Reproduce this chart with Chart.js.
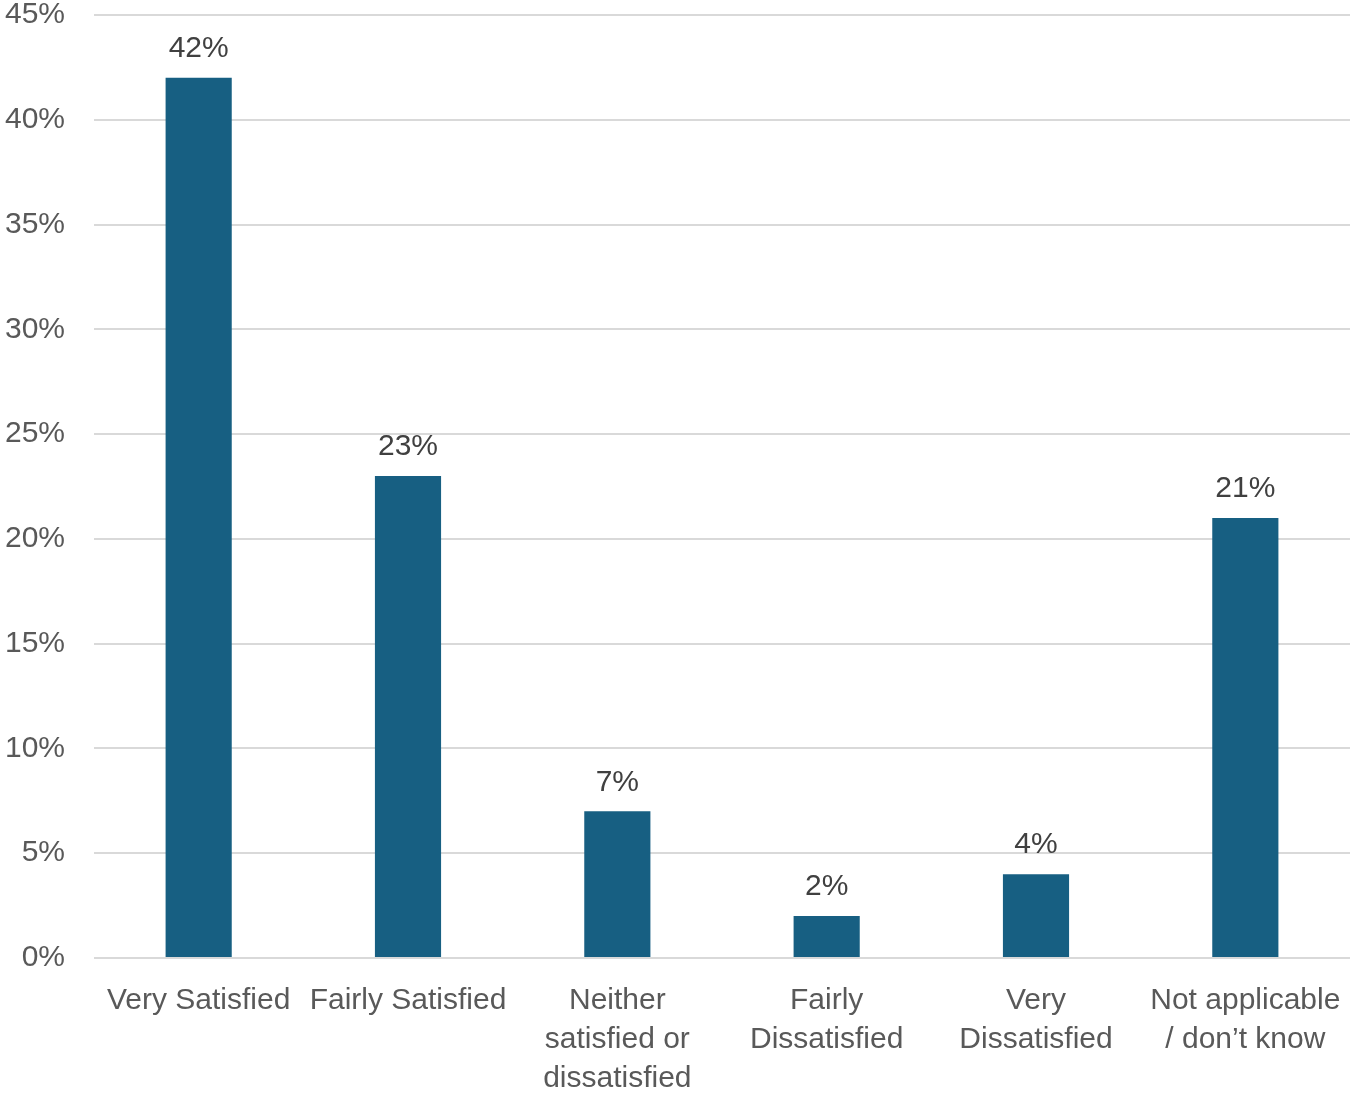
<!DOCTYPE html>
<html>
<head>
<meta charset="utf-8">
<script src="https://cdn.jsdelivr.net/npm/chart.js@4"></script>
<style>
  html, body { margin: 0; padding: 0; background: #ffffff; }
  #wrap { width: 1358px; height: 1096px; }
</style>
</head>
<body>
<div id="wrap"><canvas id="chart" width="1358" height="1096"></canvas></div>
<script>
const categories = [
  "Very Satisfied",
  "Fairly Satisfied",
  ["Neither", "satisfied or", "dissatisfied"],
  ["Fairly", "Dissatisfied"],
  ["Very", "Dissatisfied"],
  ["Not applicable", "/ don’t know"],
];
const shares = [42, 23, 7, 2, 4, 21];
const barColor = "#175F82";

const FONT = "'Liberation Sans', Arial, sans-serif";

const valueLabels = {
  id: "valueLabels",
  afterDatasetsDraw(chart) {
    const ctx = chart.ctx;
    const meta = chart.getDatasetMeta(0);
    ctx.save();
    ctx.font = "30px " + FONT;
    ctx.fillStyle = "#404040";
    ctx.textAlign = "center";
    ctx.textBaseline = "middle";
    meta.data.forEach((bar, i) => {
      ctx.fillText(shares[i] + "%", bar.x, bar.y - 29);
    });
    ctx.restore();
  },
};

new Chart(document.getElementById("chart"), {
  type: "bar",
  plugins: [valueLabels],
  data: {
    labels: categories,
    datasets: [{
      data: shares,
      backgroundColor: barColor,
      barPercentage: 0.316,
      categoryPercentage: 1,
    }],
  },
  options: {
    responsive: false,
    animation: false,
    layout: { padding: { top: 15, right: 8, left: 0, bottom: 0 } },
    plugins: { legend: { display: false }, tooltip: { enabled: false } },
    scales: {
      x: {
        grid: { display: false },
        border: { display: false },
        ticks: {
          color: "#595959",
          font: { family: FONT, size: 30, lineHeight: 1.3 },
          padding: 15,
          maxRotation: 0,
          autoSkip: false,
        },
        afterFit(scale) { scale.height = 138; },
      },
      y: {
        min: 0,
        max: 45,
        grid: { color: "#d9d9d9", lineWidth: 2, drawTicks: false },
        border: { display: false },
        ticks: {
          stepSize: 5,
          color: "#595959",
          font: { family: FONT, size: 30 },
          padding: 29,
          callback: (v) => v + "%",
        },
        afterFit(scale) {
          scale.width = 94;
          scale.paddingTop = 0;
          scale.paddingBottom = 0;
        },
      },
    },
  },
});
</script>
</body>
</html>
